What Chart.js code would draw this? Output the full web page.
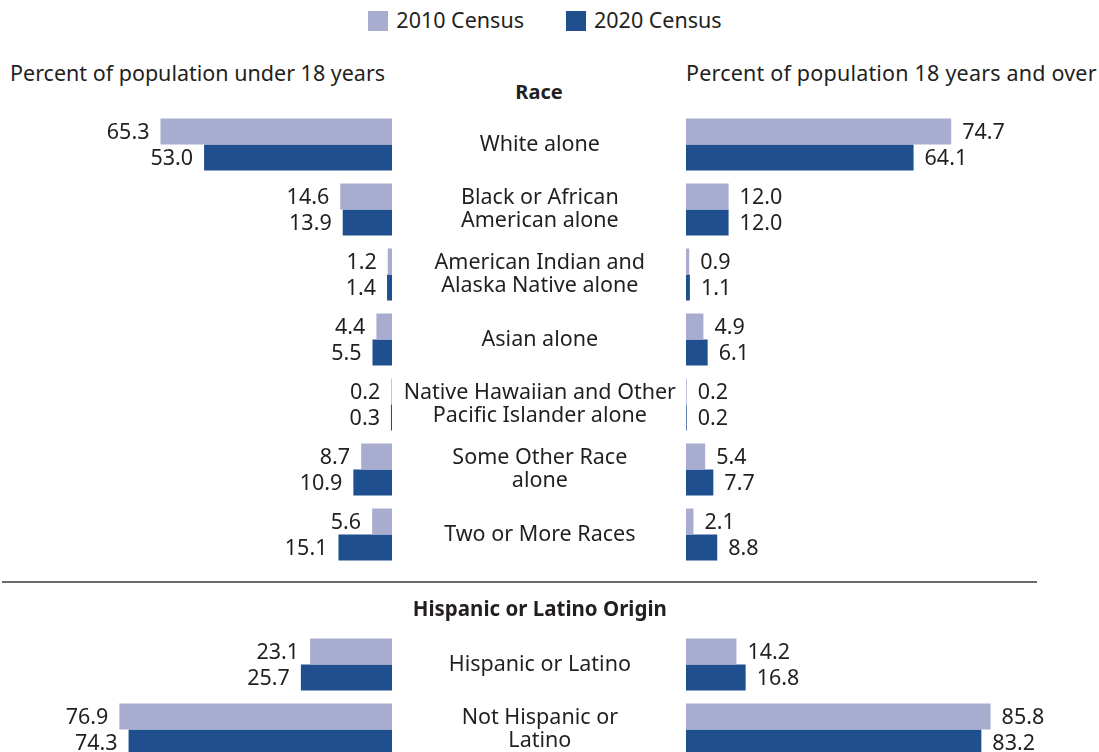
<!DOCTYPE html>
<html>
<head>
<meta charset="utf-8">
<script src="https://cdn.jsdelivr.net/npm/chart.js@4/dist/chart.umd.min.js"></script>
<style>
  body { margin: 0; width: 1099px; height: 752px; overflow: hidden; background: #fff; font-family: "Noto Sans", sans-serif; color: #231f20; position: relative; }
  .txt { position: absolute; font-size: 21.5px; white-space: nowrap; }
  #legend { position: absolute; top: 5px; left: 0; width: 1099px; text-align: center; font-size: 21.5px; padding-right: 9px; box-sizing: border-box; }
  #legend span.item { display: inline-block; margin: 0 21px; }
  #legend span.sw { display: inline-block; width: 20px; height: 20px; vertical-align: -3px; margin-right: 8px; }
  canvas { position: absolute; }
</style>
</head>
<body>
<div id="legend"></div>
<div class="txt" style="left:10px; top:58px;">Percent of population under 18 years</div>
<div class="txt" style="left:686px; top:58px; letter-spacing:0.2px;">Percent of population 18 years and over</div>
<div class="txt" style="left:0; width:1078px; text-align:center; top:78px; font-weight:bold; font-size:20px;">Race</div>
<div id="wrapL" style="position:absolute; left:2px; top:112px; width:390px; height:650px;"><canvas id="leftChart"></canvas></div>
<div id="wrapR" style="position:absolute; left:392px; top:112px; width:707px; height:650px;"><canvas id="rightChart"></canvas></div>

<script>
// categories (one empty slot holds the Hispanic origin header)
const categories = [
    ["White alone"],
    ["Black or African", "American alone"],
    ["American Indian and", "Alaska Native alone"],
    ["Asian alone"],
    ["Native Hawaiian and Other", "Pacific Islander alone"],
    ["Some Other Race", "alone"],
    ["Two or More Races"],
    [" ", "Hispanic or Latino Origin"],
    ["Hispanic or Latino"],
    ["Not Hispanic or", "Latino"]
];
const headerIndex = 7;

const seriesNames = ["2010 Census", "2020 Census"];
const seriesColors = ["#a8add0", "#1f4f8e"];

// under 18
const under18_2010 = [65.3, 14.6, 1.2, 4.4, 0.2, 8.7, 5.6, null, 23.1, 76.9];
const under18_2020 = [53.0, 13.9, 1.4, 5.5, 0.3, 10.9, 15.1, null, 25.7, 74.3];
// 18 and over
const over18_2010 = [74.7, 12.0, 0.9, 4.9, 0.2, 5.4, 2.1, null, 14.2, 85.8];
const over18_2020 = [64.1, 12.0, 1.1, 6.1, 0.2, 7.7, 8.8, null, 16.8, 83.2];

const xMax = 110;
const textColor = "#231f20";
const fontFamily = "'Noto Sans', sans-serif";

// legend
const legendEl = document.getElementById("legend");
seriesNames.forEach(function (name, i) {
    const item = document.createElement("span");
    item.className = "item";
    item.innerHTML = '<span class="sw" style="background:' + seriesColors[i] + '"></span>' + name;
    legendEl.appendChild(item);
});

// value labels at bar ends
const valueLabels = {
    id: "valueLabels",
    afterDatasetsDraw(chart, args, opts) {
        const ctx = chart.ctx;
        ctx.save();
        ctx.font = "21.5px " + fontFamily;
        ctx.fillStyle = textColor;
        ctx.textBaseline = "middle";
        ctx.textAlign = opts.side === "left" ? "right" : "left";
        chart.data.datasets.forEach(function (ds, di) {
            chart.getDatasetMeta(di).data.forEach(function (bar, i) {
                const v = ds.data[i];
                if (v === null) return;
                const x = opts.side === "left" ? bar.x - 11 : bar.x + 11;
                ctx.fillText(v.toFixed(1), x, bar.y + 1);
            });
        });
        ctx.restore();
    }
};

// separator line above the Hispanic origin block
const separator = {
    id: "separator",
    afterDraw(chart, args, opts) {
        const y = chart.scales.y;
        const lineY = Math.round((y.getPixelForValue(headerIndex - 1) + y.getPixelForValue(headerIndex)) / 2 + 15);
        const ctx = chart.ctx;
        ctx.save();
        ctx.strokeStyle = "#3a3a3a";
        ctx.lineWidth = 1.5;
        ctx.beginPath();
        ctx.moveTo(0, lineY);
        ctx.lineTo(opts.end, lineY);
        ctx.stroke();
        ctx.restore();
    }
};

function makeDatasets(a, b) {
    return [
        { label: seriesNames[0], data: a, backgroundColor: seriesColors[0], categoryPercentage: 0.8, barPercentage: 1.0 },
        { label: seriesNames[1], data: b, backgroundColor: seriesColors[1], categoryPercentage: 0.8, barPercentage: 1.0 }
    ];
}

const leftChart = new Chart(document.getElementById("leftChart"), {
    type: "bar",
    data: { labels: categories, datasets: makeDatasets(under18_2010, under18_2020) },
    options: {
        indexAxis: "y",
        responsive: true,
        maintainAspectRatio: false,
        animation: false,
        layout: { padding: 0 },
        plugins: {
            legend: { display: false },
            tooltip: { enabled: false },
            valueLabels: { side: "left" },
            separator: { end: 390 }
        },
        scales: {
            x: { reverse: true, min: 0, max: xMax, display: false },
            y: { display: false }
        }
    },
    plugins: [valueLabels, separator]
});

const rightChart = new Chart(document.getElementById("rightChart"), {
    type: "bar",
    data: { labels: categories, datasets: makeDatasets(over18_2010, over18_2020) },
    options: {
        indexAxis: "y",
        responsive: true,
        maintainAspectRatio: false,
        animation: false,
        layout: { padding: { right: 707 - 294 - xMax * 3.55 } },
        plugins: {
            legend: { display: false },
            tooltip: { enabled: false },
            valueLabels: { side: "right" },
            separator: { end: 645 }
        },
        scales: {
            x: { min: 0, max: xMax, display: false },
            y: {
                position: "left",
                grid: { display: false, drawTicks: false },
                border: { display: false },
                afterFit: function (scale) {
                    scale.width = 294;
                    scale.paddingTop = 0;
                    scale.paddingBottom = 0;
                },
                ticks: {
                    crossAlign: "center",
                    padding: 10,
                    color: textColor,
                    autoSkip: false,
                    font: function (c) {
                        return c.index === headerIndex
                            ? { family: fontFamily, size: 20.5, weight: "bold", lineHeight: 1.0 }
                            : { family: fontFamily, size: 21.5, lineHeight: 1.08 };
                    }
                }
            }
        }
    },
    plugins: [valueLabels, separator]
});
</script>
</body>
</html>
